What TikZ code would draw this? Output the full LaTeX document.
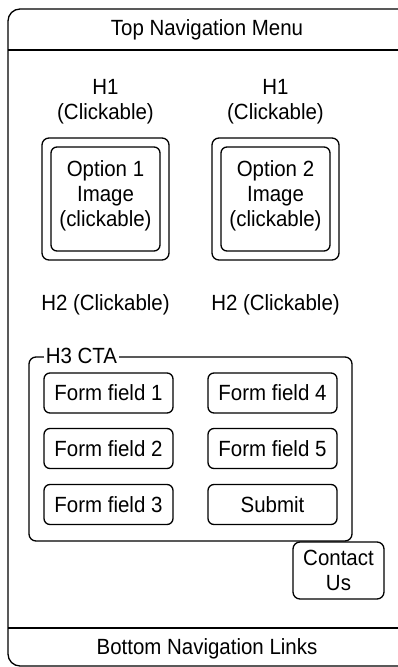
\documentclass[tikz,border=0pt]{standalone}
\usepackage{fontspec}
\setmainfont[FakeStretch=0.93]{Liberation Sans}
\begin{document}
\begin{tikzpicture}[x=1pt,y=-1pt,
  every node/.style={font=\fontsize{22}{25}\selectfont, align=center, inner sep=0pt},
  line/.style={draw=black, line width=1.3pt},
  fieldbox/.style={line, rounded corners=6pt, minimum width=129pt, minimum height=40pt},
  imgouter/.style={line, rounded corners=7pt, minimum width=127pt, minimum height=122pt},
  imginner/.style={line, rounded corners=6pt, minimum width=109pt, minimum height=104pt},
  caption/.style={}
]
\useasboundingbox (0,0) rectangle (398,667);
\clip (0,0) rectangle (398,667);

% page frame with header and footer bars
\draw[line, rounded corners=12pt] (8,9) rectangle (420,666);
\coordinate (hdrL) at (8,50);
\coordinate (hdrR) at (398,50);
\coordinate (ftrL) at (8,628);
\coordinate (ftrR) at (398,628);
\draw[line] (hdrL) -- (hdrR);
\draw[line] (ftrL) -- (ftrR);
\node[caption] (top) at (207,30) {Top Navigation Menu};
\node[caption] (bottom) at (207,649) {Bottom Navigation Links};

% headings above the option images
\node[caption] (h1a) at (105.5,102) {H1\\(Clickable)};
\node[caption] (h1b) at (275.5,102) {H1\\(Clickable)};

% option images
\node[imgouter] (opt1o) at (105.5,199) {};
\node[imginner] (opt1i) at (105.5,199) {};
\node (opt1t) at (105.5,196) {Option 1\\Image\\(clickable)};
\node[imgouter] (opt2o) at (275.5,199) {};
\node[imginner] (opt2i) at (275.5,199) {};
\node (opt2t) at (275.5,196) {Option 2\\Image\\(clickable)};

% second-level headings
\node[caption] (h2a) at (105.5,305) {H2 (Clickable)};
\node[caption] (h2b) at (275.5,305) {H2 (Clickable)};

% call-to-action form group
\draw[line, rounded corners=7pt] (29,357) rectangle (352,541);
\node[fill=white, inner xsep=2pt] (cta) at (81.5,356) {H3 CTA};

\node[fieldbox] (f1) at (108.5,393) {Form field 1};
\node[fieldbox] (f2) at (108.5,448.5) {Form field 2};
\node[fieldbox] (f3) at (108.5,504.5) {Form field 3};
\node[fieldbox] (f4) at (272.5,393) {Form field 4};
\node[fieldbox] (f5) at (272.5,448.5) {Form field 5};
\node[fieldbox] (submit) at (272.5,504.5) {Submit};

% contact button
\node[line, rounded corners=7pt, minimum width=91pt, minimum height=57pt] (contact) at (338.5,570.5) {Contact\\Us};
\end{tikzpicture}
\end{document}
